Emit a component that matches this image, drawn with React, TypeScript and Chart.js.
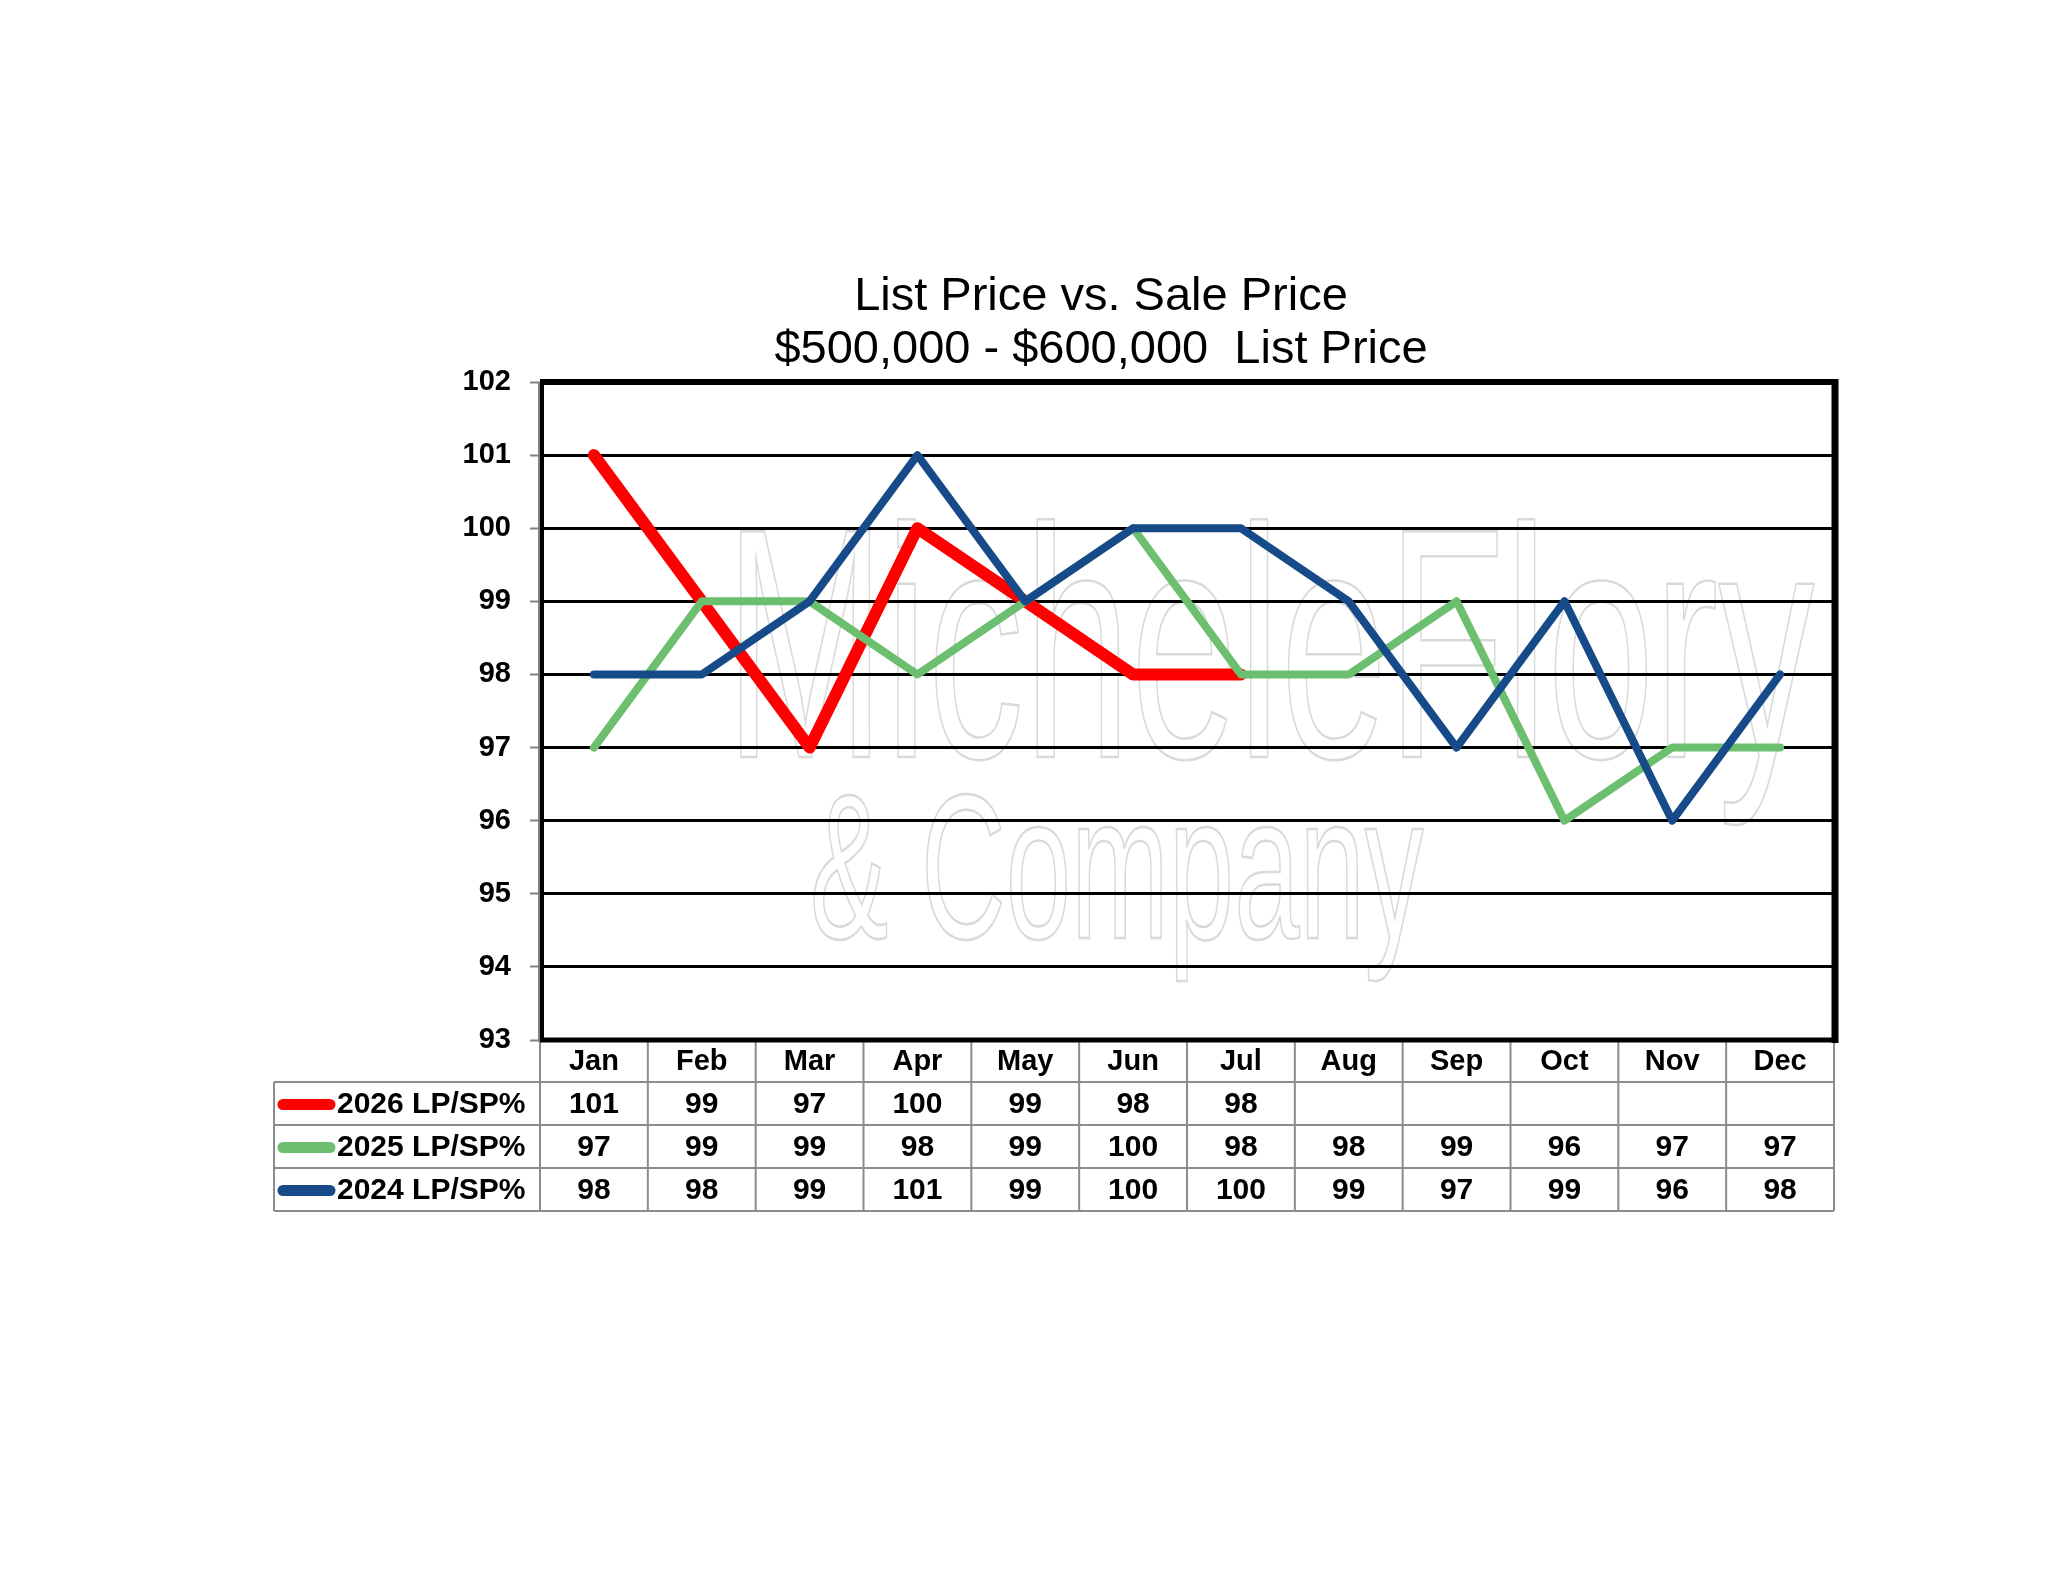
import React, { useEffect, useRef } from "react";
import { Chart, registerables } from "chart.js";

Chart.register(...registerables);

const categories = ["Jan", "Feb", "Mar", "Apr", "May", "Jun", "Jul", "Aug", "Sep", "Oct", "Nov", "Dec"];
const series2026: (number | null)[] = [101, 99, 97, 100, 99, 98, 98, null, null, null, null, null];
const series2025: (number | null)[] = [97, 99, 99, 98, 99, 100, 98, 98, 99, 96, 97, 97];
const series2024: (number | null)[] = [98, 98, 99, 101, 99, 100, 100, 99, 97, 99, 96, 98];
const seriesLabels = ["2026 LP/SP%", "2025 LP/SP%", "2024 LP/SP%"];
const seriesColors = ["#ff0000", "#6cbf6f", "#174a88"];
const seriesWidths = [12, 8, 8];
const yMin = 93;
const yMax = 102;
const yStep = 1;
const titleLines = ["List Price vs. Sale Price", "$500,000 - $600,000  List Price"];
const watermarkLines = ["MicheleFlory", "& Company"];

const FONT = '"Liberation Sans", Arial, Helvetica, sans-serif';

const tablePlugin = {
  id: "excelTable",
  beforeDraw(chart: any) {
    const ctx = chart.ctx;
    ctx.save();
    ctx.fillStyle = "#ffffff";
    ctx.fillRect(0, 0, chart.width, chart.height);
    // faint watermark
    ctx.strokeStyle = "#d9d9d9";
    ctx.lineWidth = 2.5;
    ctx.save();
    ctx.translate(725, 757);
    ctx.scale(0.586, 1);
    ctx.font = `328px ${FONT}`;
    ctx.strokeText(watermarkLines[0], 0, 0);
    ctx.restore();
    ctx.save();
    ctx.translate(810, 938);
    ctx.scale(0.57, 1);
    ctx.font = `206px ${FONT}`;
    ctx.strokeText(watermarkLines[1], 0, 0);
    ctx.restore();
    ctx.restore();
  },
  afterDraw(chart: any) {
    const ctx = chart.ctx;
    const area = chart.chartArea;
    const xs = chart.scales.x;
    const n = categories.length;
    const colW = (area.right - area.left) / n;
    const legendLeft = 274;
    const headerTop = area.bottom;
    const rowEdges = [headerTop, headerTop + 42, headerTop + 85, headerTop + 128, headerTop + 171];
    const tableBottom = rowEdges[rowEdges.length - 1];

    ctx.save();
    // title
    ctx.fillStyle = "#000";
    ctx.textAlign = "center";
    ctx.textBaseline = "alphabetic";
    ctx.font = `47px ${FONT}`;
    const cx = 1101;
    ctx.fillText(titleLines[0], cx, 310);
    ctx.fillText(titleLines[1], cx, 363);

    // table grid
    ctx.strokeStyle = "#8c8c8c";
    ctx.lineWidth = 2;
    ctx.beginPath();
    for (let i = 0; i <= n; i++) {
      const x = area.left + i * colW;
      ctx.moveTo(x, headerTop);
      ctx.lineTo(x, tableBottom);
    }
    ctx.moveTo(legendLeft, rowEdges[1]);
    ctx.lineTo(legendLeft, tableBottom);
    for (let r = 1; r < rowEdges.length; r++) {
      ctx.moveTo(legendLeft, rowEdges[r]);
      ctx.lineTo(area.right, rowEdges[r]);
    }
    ctx.stroke();

    // header labels
    ctx.font = `bold 29px ${FONT}`;
    ctx.textBaseline = "middle";
    ctx.textAlign = "center";
    for (let i = 0; i < n; i++) {
      ctx.fillText(categories[i], xs.getPixelForValue(i), (rowEdges[0] + rowEdges[1]) / 2 + 1);
    }
    ctx.font = `bold 30px ${FONT}`;
    const allSeries = [series2026, series2025, series2024];
    for (let s = 0; s < allSeries.length; s++) {
      const yMid = (rowEdges[s + 1] + rowEdges[s + 2]) / 2 + 1;
      // legend key
      ctx.strokeStyle = seriesColors[s];
      ctx.lineWidth = 11;
      ctx.lineCap = "round";
      ctx.beginPath();
      ctx.moveTo(283, yMid);
      ctx.lineTo(330, yMid);
      ctx.stroke();
      ctx.fillStyle = "#000";
      ctx.textAlign = "left";
      ctx.fillText(seriesLabels[s], 337, yMid);
      ctx.textAlign = "center";
      const vals = allSeries[s];
      for (let i = 0; i < n; i++) {
        const v = vals[i];
        if (v !== null && v !== undefined) {
          ctx.fillText(String(v), xs.getPixelForValue(i), yMid);
        }
      }
    }

    // plot frame
    ctx.lineCap = "butt";
    ctx.strokeStyle = "#808080";
    ctx.lineWidth = 2;
    ctx.beginPath();
    ctx.moveTo(area.left - 1, area.top);
    ctx.lineTo(area.left - 1, area.bottom + 2);
    ctx.stroke();
    ctx.strokeStyle = "#000";
    ctx.lineWidth = 4;
    ctx.beginPath();
    ctx.moveTo(area.left + 2, area.top);
    ctx.lineTo(area.left + 2, area.bottom);
    ctx.stroke();
    ctx.lineWidth = 6;
    ctx.beginPath();
    ctx.moveTo(area.left, area.top);
    ctx.lineTo(area.right + 4, area.top);
    ctx.stroke();
    ctx.lineWidth = 7;
    ctx.beginPath();
    ctx.moveTo(area.right + 1, area.top - 3);
    ctx.lineTo(area.right + 1, area.bottom + 3);
    ctx.stroke();
    ctx.lineWidth = 5;
    ctx.beginPath();
    ctx.moveTo(area.left, area.bottom);
    ctx.lineTo(area.right + 4, area.bottom);
    ctx.stroke();
    ctx.restore();
  },
};

export default function App() {
  const canvasRef = useRef<HTMLCanvasElement | null>(null);

  useEffect(() => {
    const canvas = canvasRef.current;
    if (!canvas) return;
    Chart.defaults.font.family = FONT;
    const mk = (idx: number, data: (number | null)[], order: number) => ({
      label: seriesLabels[idx],
      data,
      borderColor: seriesColors[idx],
      backgroundColor: seriesColors[idx],
      borderWidth: seriesWidths[idx],
      pointRadius: 0,
      pointHoverRadius: 0,
      tension: 0,
      fill: false,
      spanGaps: false,
      borderJoinStyle: "round" as const,
      borderCapStyle: "round" as const,
      order,
    });
    const chart = new Chart(canvas, {
      type: "line",
      data: {
        labels: categories,
        datasets: [mk(0, series2026, 3), mk(1, series2025, 2), mk(2, series2024, 1)],
      },
      options: {
        animation: false,
        responsive: false,
        devicePixelRatio: 1,
        layout: { padding: { top: 382, right: 214, bottom: 543, left: 0 } },
        plugins: {
          legend: { display: false },
          title: { display: false },
          tooltip: { enabled: false },
        },
        scales: {
          x: { display: false, offset: true },
          y: {
            min: yMin,
            max: yMax,
            afterFit: (scale: any) => {
              scale.width = 540;
            },
            ticks: {
              stepSize: yStep,
              color: "#000",
              font: { size: 29, weight: "bold", family: FONT },
              padding: 19,
            },
            grid: {
              color: "#000",
              lineWidth: 3,
              tickColor: "#808080",
              tickLength: 10,
              tickWidth: 2,
              drawTicks: true,
            },
            border: { display: false },
          },
        },
      },
      plugins: [tablePlugin],
    });
    return () => chart.destroy();
  }, []);

  return (
    <div style={{ position: "absolute", left: 0, top: 0, width: 2048, height: 1583, background: "#fff" }}>
      <canvas ref={canvasRef} width={2048} height={1583} style={{ display: "block" }} />
    </div>
  );
}
